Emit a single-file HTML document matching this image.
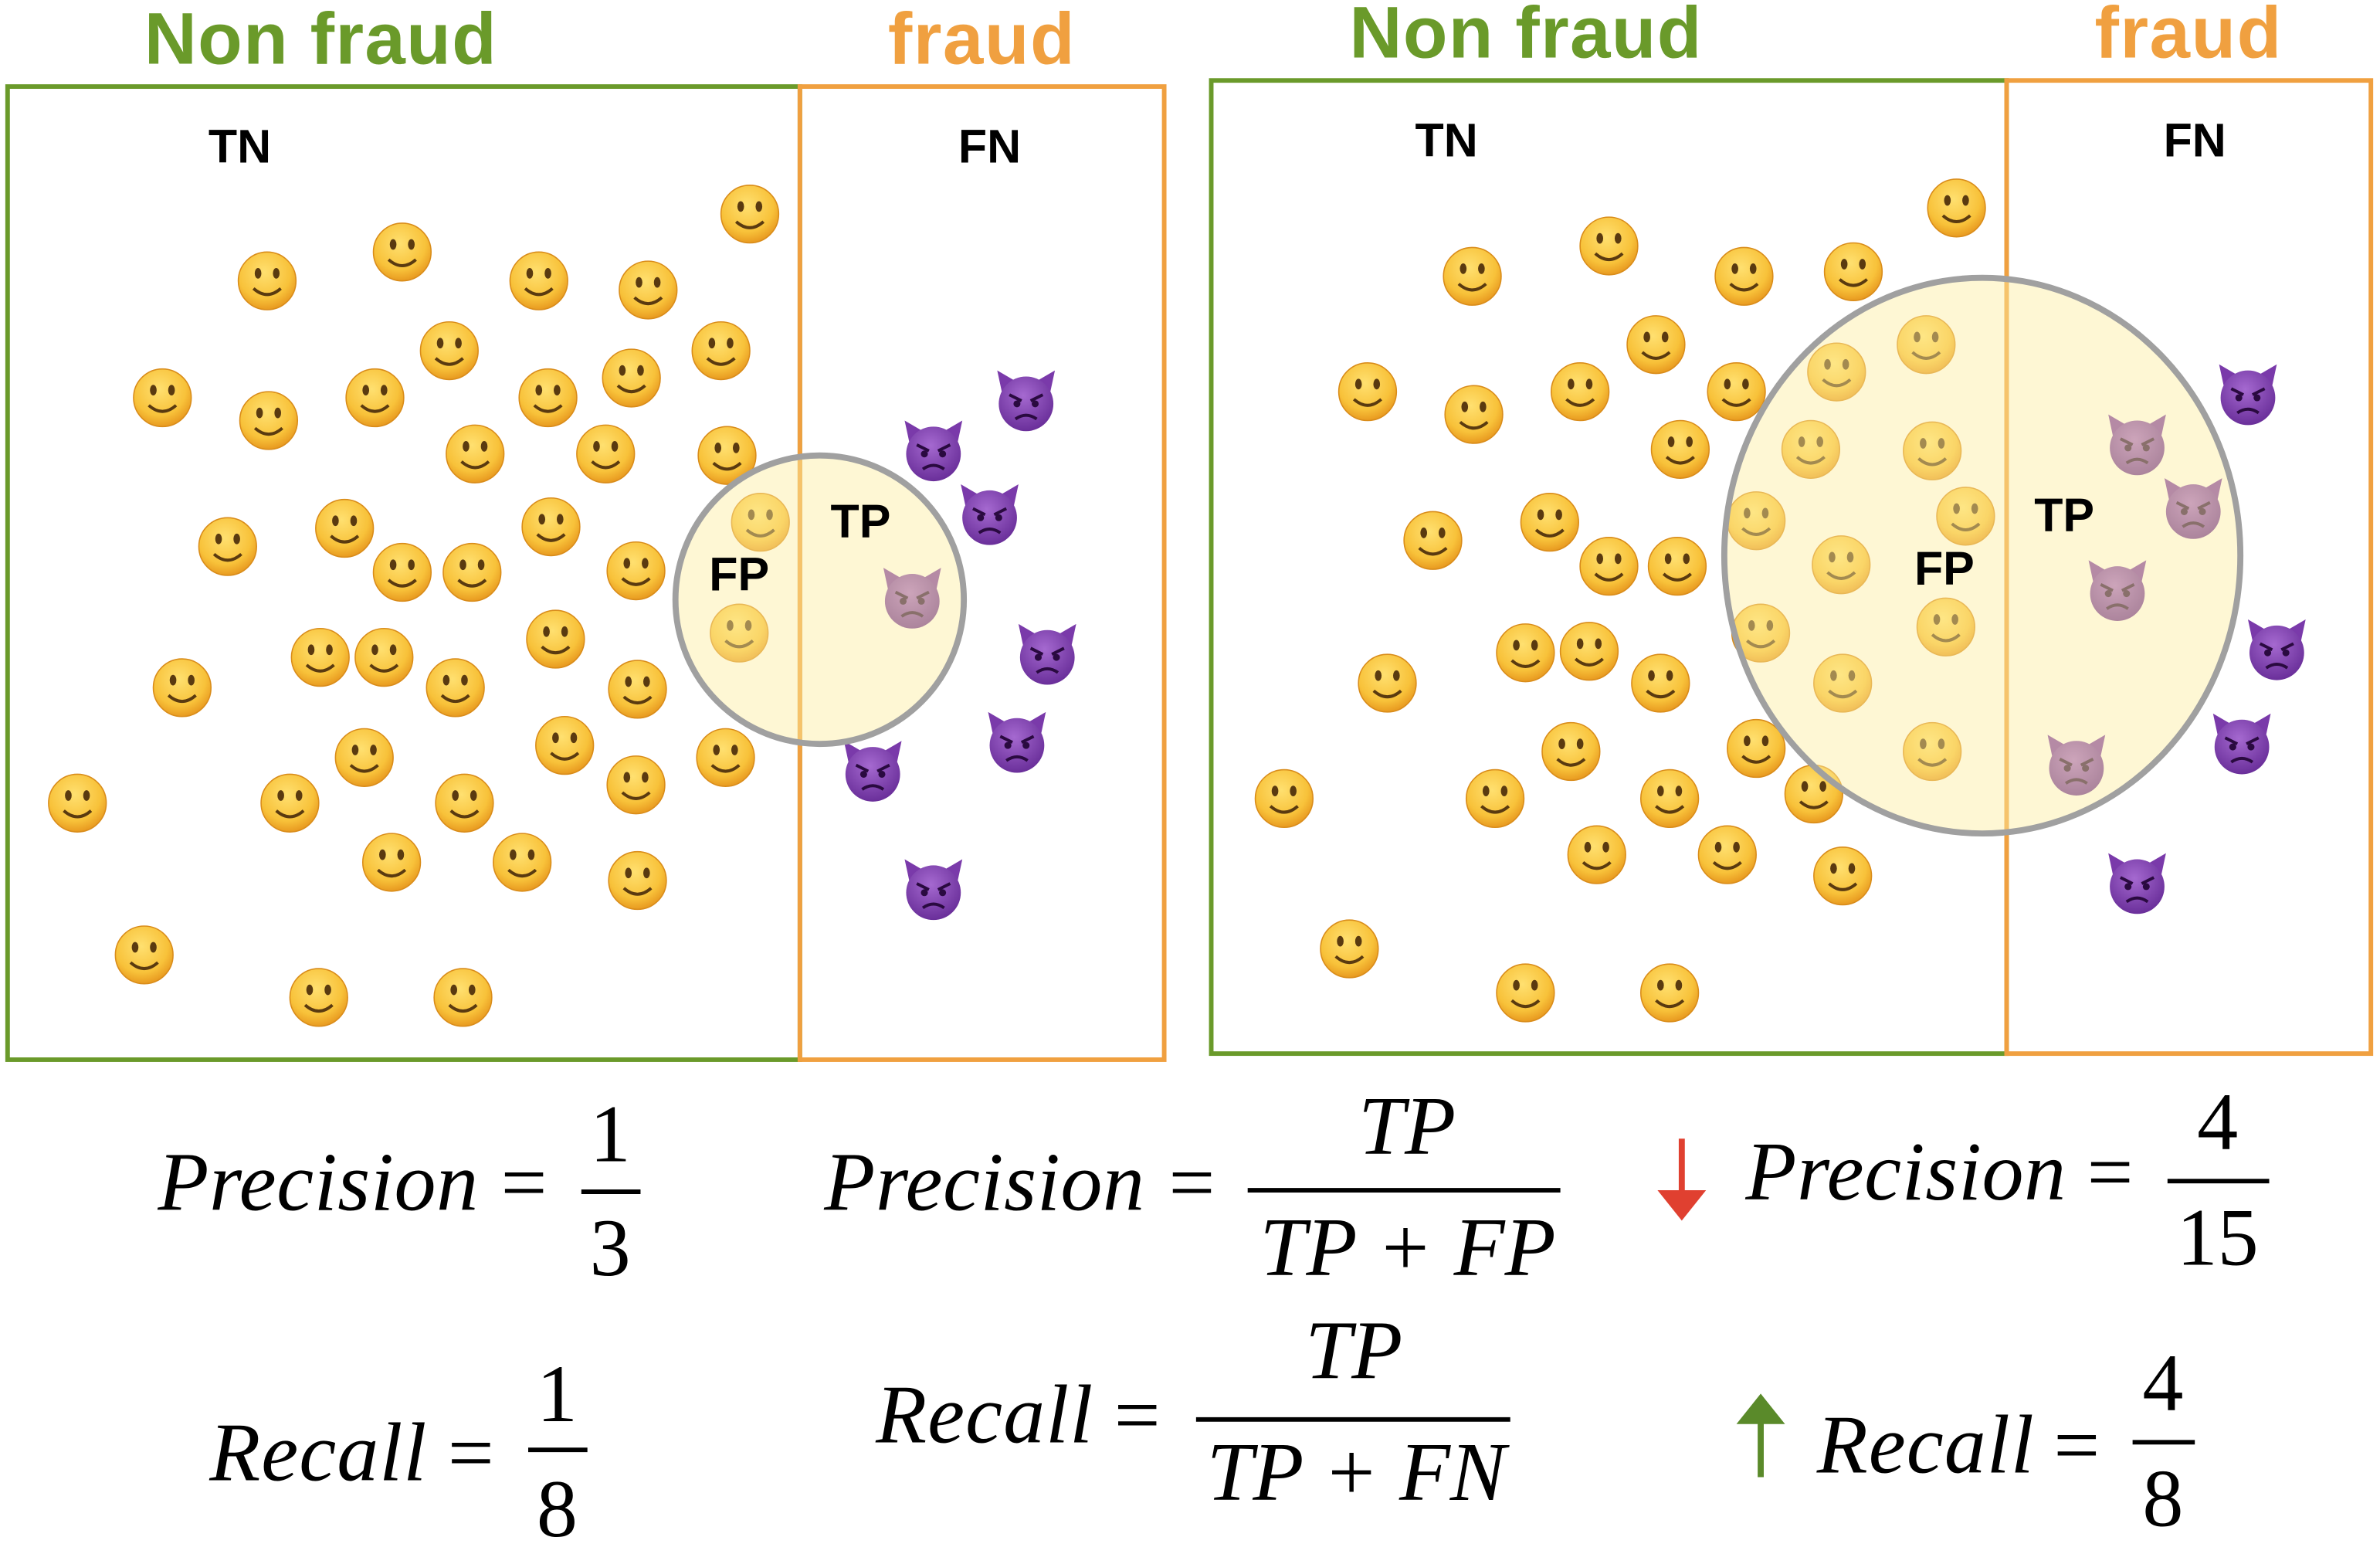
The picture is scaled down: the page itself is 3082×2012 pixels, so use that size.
<!DOCTYPE html>
<html><head><meta charset="utf-8"><style>
html,body{margin:0;padding:0;background:#fff;}
svg{display:block;}
.t{font-family:"Liberation Sans",sans-serif;font-weight:bold;font-size:48px;}
.l{font-family:"Liberation Sans",sans-serif;font-weight:bold;font-size:31px;fill:#000;}
.f{font-family:"Liberation Serif",serif;font-style:italic;font-size:55px;fill:#000;}
.n{font-family:"Liberation Serif",serif;font-size:54px;fill:#000;}
</style></head><body>
<svg width="3082" height="2012" viewBox="0 0 1568 1023.6" xmlns="http://www.w3.org/2000/svg">
<defs>
<radialGradient id="sg" cx="45%" cy="35%" r="65%"><stop offset="0" stop-color="#ffe070"/><stop offset="0.7" stop-color="#f8c23a"/><stop offset="1" stop-color="#e89a20"/></radialGradient>
<radialGradient id="dg" cx="45%" cy="35%" r="65%"><stop offset="0" stop-color="#a569d0"/><stop offset="1" stop-color="#6a2f9a"/></radialGradient>
<g id="s"><circle r="19" fill="url(#sg)" stroke="#d98c1a" stroke-width="0.8"/><ellipse cx="-6" cy="-5" rx="2.2" ry="3.5" fill="#5a3a10"/><ellipse cx="6" cy="-5" rx="2.2" ry="3.5" fill="#5a3a10"/><path d="M-9,5 Q0,13 9,5" stroke="#5a3a10" stroke-width="2" fill="none"/></g>
<g id="d"><path d="M-16,-8 L-19,-22 L-7,-15 Z M16,-8 L19,-22 L7,-15 Z" fill="#7a3aaa"/><circle r="18" fill="url(#dg)"/><path d="M-11,-6 L-3,-2 M11,-6 L3,-2" stroke="#2a0a40" stroke-width="2"/><circle cx="-6" cy="0" r="2.3" fill="#2a0a40"/><circle cx="6" cy="0" r="2.3" fill="#2a0a40"/><path d="M-7,10 Q0,5 7,10" stroke="#2a0a40" stroke-width="2" fill="none"/></g>
</defs>
<text class="t" x="95" y="42" fill="#6a9a2a" textLength="232">Non fraud</text>
<text class="t" x="585" y="42" fill="#f0a040" textLength="123">fraud</text>
<text class="t" x="889" y="38" fill="#6a9a2a" textLength="232">Non fraud</text>
<text class="t" x="1380" y="38" fill="#f0a040" textLength="123">fraud</text>
<rect x="5" y="57" width="522" height="641" fill="none" stroke="#6a9a2a" stroke-width="3"/>
<rect x="527" y="57" width="240" height="641" fill="none" stroke="#f0a040" stroke-width="3"/>
<rect x="798" y="53" width="524" height="641" fill="none" stroke="#6a9a2a" stroke-width="3"/>
<rect x="1322" y="53" width="240" height="641" fill="none" stroke="#f0a040" stroke-width="3"/>
<g>
<use href="#s" x="494" y="141"/><use href="#s" x="265" y="166"/><use href="#s" x="176" y="185"/><use href="#s" x="355" y="185"/><use href="#s" x="427" y="191"/><use href="#s" x="475" y="231"/><use href="#s" x="296" y="231"/><use href="#s" x="107" y="262"/><use href="#s" x="177" y="277"/><use href="#s" x="247" y="262"/><use href="#s" x="361" y="262"/><use href="#s" x="416" y="249"/><use href="#s" x="479" y="300"/><use href="#s" x="313" y="299"/><use href="#s" x="399" y="299"/><use href="#s" x="150" y="360"/><use href="#s" x="227" y="348"/><use href="#s" x="363" y="347"/><use href="#s" x="265" y="377"/><use href="#s" x="311" y="377"/><use href="#s" x="419" y="376"/><use href="#s" x="501" y="344"/><use href="#s" x="487" y="417"/><use href="#s" x="366" y="421"/><use href="#s" x="211" y="433"/><use href="#s" x="253" y="433"/><use href="#s" x="300" y="453"/><use href="#s" x="420" y="454"/><use href="#s" x="120" y="453"/><use href="#s" x="240" y="499"/><use href="#s" x="372" y="491"/><use href="#s" x="478" y="499"/><use href="#s" x="419" y="517"/><use href="#s" x="51" y="529"/><use href="#s" x="191" y="529"/><use href="#s" x="306" y="529"/><use href="#s" x="258" y="568"/><use href="#s" x="344" y="568"/><use href="#s" x="420" y="580"/><use href="#s" x="95" y="629"/><use href="#s" x="210" y="657"/><use href="#s" x="305" y="657"/>
<use href="#d" x="676" y="266"/><use href="#d" x="615" y="299"/><use href="#d" x="652" y="341"/><use href="#d" x="601" y="396"/><use href="#d" x="690" y="433"/><use href="#d" x="670" y="491"/><use href="#d" x="575" y="510"/><use href="#d" x="615" y="588"/>
</g>
<circle cx="540" cy="395" r="95" fill="rgba(252,238,160,0.45)" stroke="#a0a0a0" stroke-width="4"/>
<g>
<use href="#s" x="1289" y="137"/><use href="#s" x="1060" y="162"/><use href="#s" x="970" y="182"/><use href="#s" x="1149" y="182"/><use href="#s" x="1221" y="179"/><use href="#s" x="1269" y="227"/><use href="#s" x="1091" y="227"/><use href="#s" x="901" y="258"/><use href="#s" x="971" y="273"/><use href="#s" x="1041" y="258"/><use href="#s" x="1144" y="258"/><use href="#s" x="1210" y="245"/><use href="#s" x="1273" y="297"/><use href="#s" x="1107" y="296"/><use href="#s" x="1193" y="296"/><use href="#s" x="944" y="356"/><use href="#s" x="1021" y="344"/><use href="#s" x="1157" y="343"/><use href="#s" x="1060" y="373"/><use href="#s" x="1105" y="373"/><use href="#s" x="1213" y="372"/><use href="#s" x="1295" y="340"/><use href="#s" x="1282" y="413"/><use href="#s" x="1160" y="417"/><use href="#s" x="1005" y="430"/><use href="#s" x="1047" y="429"/><use href="#s" x="1094" y="450"/><use href="#s" x="1214" y="450"/><use href="#s" x="914" y="450"/><use href="#s" x="1035" y="495"/><use href="#s" x="1157" y="493"/><use href="#s" x="1273" y="495"/><use href="#s" x="1195" y="523"/><use href="#s" x="846" y="526"/><use href="#s" x="985" y="526"/><use href="#s" x="1100" y="526"/><use href="#s" x="1052" y="563"/><use href="#s" x="1138" y="563"/><use href="#s" x="1214" y="577"/><use href="#s" x="889" y="625"/><use href="#s" x="1005" y="654"/><use href="#s" x="1100" y="654"/>
<use href="#d" x="1481" y="262"/><use href="#d" x="1408" y="295"/><use href="#d" x="1445" y="337"/><use href="#d" x="1395" y="391"/><use href="#d" x="1500" y="430"/><use href="#d" x="1477" y="492"/><use href="#d" x="1368" y="506"/><use href="#d" x="1408" y="584"/>
</g>
<ellipse cx="1306" cy="366" rx="170" ry="183" fill="rgba(252,238,160,0.45)" stroke="#a0a0a0" stroke-width="4"/>
<text class="l" x="158" y="107" text-anchor="middle">TN</text>
<text class="l" x="652" y="107" text-anchor="middle">FN</text>
<text class="l" x="567" y="354" text-anchor="middle">TP</text>
<text class="l" x="487" y="389" text-anchor="middle">FP</text>
<text class="l" x="953" y="103" text-anchor="middle">TN</text>
<text class="l" x="1446" y="103" text-anchor="middle">FN</text>
<text class="l" x="1360" y="350" text-anchor="middle">TP</text>
<text class="l" x="1281" y="385" text-anchor="middle">FP</text>

<text class="f" x="104" y="797" textLength="211">Precision</text><text class="n" x="330" y="797">=</text>
<line x1="383" y1="785" x2="422" y2="785" stroke="#000" stroke-width="3"/>
<text class="n" x="402" y="765" text-anchor="middle">1</text><text class="n" x="402" y="840" text-anchor="middle">3</text>

<text class="f" x="543" y="797" textLength="211">Precision</text><text class="n" x="770" y="797">=</text>
<line x1="822" y1="784" x2="1028" y2="784" stroke="#000" stroke-width="3"/>
<text class="f" x="927" y="760" text-anchor="middle">TP</text>
<text class="f" x="830" y="840" textLength="195">TP + FP</text>

<text class="f" x="138" y="975" textLength="143">Recall</text><text class="n" x="295" y="975">=</text>
<line x1="348" y1="955" x2="387" y2="955" stroke="#000" stroke-width="3"/>
<text class="n" x="367" y="936" text-anchor="middle">1</text><text class="n" x="367" y="1012" text-anchor="middle">8</text>

<text class="f" x="577" y="950" textLength="143">Recall</text><text class="n" x="734" y="950">=</text>
<line x1="788" y1="935" x2="995" y2="935" stroke="#000" stroke-width="3"/>
<text class="f" x="892" y="908" text-anchor="middle">TP</text>
<text class="f" x="795" y="988" textLength="197">TP + FN</text>

<line x1="1108" y1="750" x2="1108" y2="790" stroke="#e04030" stroke-width="4"/>
<path d="M1092,784 L1124,784 L1108,804 Z" fill="#e04030"/>
<text class="f" x="1150" y="790" textLength="211">Precision</text><text class="n" x="1375" y="790">=</text>
<line x1="1428" y1="778" x2="1495" y2="778" stroke="#000" stroke-width="3"/>
<text class="n" x="1461" y="757" text-anchor="middle">4</text><text class="n" x="1461" y="833" text-anchor="middle">15</text>

<line x1="1160" y1="935" x2="1160" y2="973" stroke="#5a8a2a" stroke-width="4"/>
<path d="M1144,938 L1176,938 L1160,918 Z" fill="#5a8a2a"/>
<text class="f" x="1197" y="970" textLength="143">Recall</text><text class="n" x="1353" y="970">=</text>
<line x1="1405" y1="950" x2="1446" y2="950" stroke="#000" stroke-width="3"/>
<text class="n" x="1425" y="929" text-anchor="middle">4</text><text class="n" x="1425" y="1005" text-anchor="middle">8</text>
</svg>
</body></html>
